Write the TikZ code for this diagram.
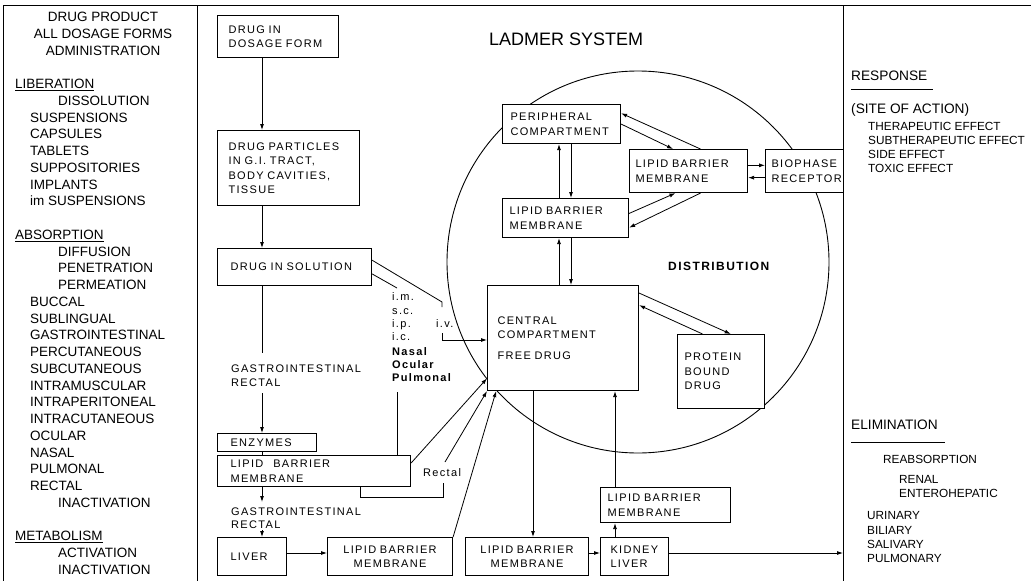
\documentclass[tikz,border=0pt]{standalone}
\usepackage{fontspec}
\setmainfont{Liberation Sans}
\newfontfamily\lt[LetterSpace=12,WordSpace=1.6]{Liberation Sans}
\usetikzlibrary{arrows.meta,calc}
\newcommand\bxf{\lt\fontsize{11}{14.5}\selectfont}
\newcommand\lcf{\fontsize{13.5}{16}\selectfont}
\newcommand\rsf{\fontsize{11.8}{14}\selectfont}
\newcommand\rbf{\fontsize{13.7}{16}\selectfont}
\begin{document}
\begin{tikzpicture}[x=1pt,y=-1pt,
  box/.style={draw, line width=1.1pt, fill=white, anchor=north west, inner sep=0pt, align=left, font=\bxf},
  cbox/.style={box, align=center},
  arr/.style={line width=0.8pt, -{Latex[length=6pt,width=4pt]}},
  ln/.style={line width=0.8pt},
  lc/.style={font=\lcf, inner sep=0pt},
  rs/.style={font=\rsf, inner sep=0pt, anchor=base west},
  rb/.style={font=\rbf, inner sep=0pt, anchor=base west},
  lab/.style={font=\bxf, inner sep=0pt, anchor=base west},
  frame/.style={line width=1pt}]
\useasboundingbox (0,0) rectangle (1031,581);
% frame
\draw[frame] (3,581) -- (3,5) -- (1031,5);
\draw[frame] (197,5) -- (197,581);
\draw[frame] (843,5) -- (843,581);

% left column
\node[lc, anchor=base] (T0) at (103,21.7) {DRUG PRODUCT};
\node[lc, anchor=base] (T1) at (103,38.5) {ALL DOSAGE FORMS};
\node[lc, anchor=base] (T2) at (103,55.2) {ADMINISTRATION};
\foreach \x/\r/\t in {15/4/{\underline{LIBERATION}},58/5/DISSOLUTION,30/6/SUSPENSIONS,30/7/CAPSULES,30/8/TABLETS,30/9/SUPPOSITORIES,30/10/IMPLANTS,30/11/im SUSPENSIONS,
  15/13/{\underline{ABSORPTION}},58/14/DIFFUSION,58/15/PENETRATION,58/16/PERMEATION,30/17/BUCCAL,30/18/SUBLINGUAL,30/19/GASTROINTESTINAL,30/20/PERCUTANEOUS,30/21/SUBCUTANEOUS,30/22/INTRAMUSCULAR,30/23/INTRAPERITONEAL,30/24/INTRACUTANEOUS,30/25/OCULAR,30/26/NASAL,30/27/PULMONAL,30/28/RECTAL,58/29/INACTIVATION,
  15/31/{\underline{METABOLISM}},58/32/ACTIVATION,58/33/INACTIVATION}
  \node[lc, anchor=base west] (L\r) at (\x,21.7+16.75*\r) {\t};

% right column
\node[rb] (resp) at (851,80) {RESPONSE};
\draw[ln] (851,89) -- (933,89);
\node[rb] (site) at (851,113) {(SITE OF ACTION)};
\node[rs] (e1) at (868,130) {THERAPEUTIC EFFECT};
\node[rs] (e2) at (868,144) {SUBTHERAPEUTIC EFFECT};
\node[rs] (e3) at (868,158) {SIDE EFFECT};
\node[rs] (e4) at (868,172.5) {TOXIC EFFECT};
\node[rb] (elim) at (851,429) {ELIMINATION};
\draw[ln] (851,442) -- (945,442);
\node[rs] (reab) at (883,463) {REABSORPTION};
\node[rs] (ren) at (899,483.3) {RENAL};
\node[rs] (ent) at (899,497.3) {ENTEROHEPATIC};
\node[rs] (uri) at (867,519.3) {URINARY};
\node[rs] (bil) at (867,534) {BILIARY};
\node[rs] (sal) at (867,548.3) {SALIVARY};
\node[rs] (pul) at (867,562.7) {PULMONARY};

% title, distribution circle
\node[inner sep=0pt, anchor=base west, font=\fontsize{18}{20}\selectfont] (title) at (489,45) {LADMER SYSTEM};
\node[draw, circle, line width=0.9pt, minimum size=382pt, inner sep=0pt] (dist) at (638,262) {};
\node[inner sep=0pt, anchor=base west, font=\lt\bfseries\fontsize{12}{14}\selectfont] (distl) at (668,270) {DISTRIBUTION};

% boxes
\node[box, minimum width=121pt, minimum height=42pt, text width=99pt] (dose) at (217,15) {DRUG~IN\\DOSAGE~FORM};
\node[box, minimum width=142pt, minimum height=75pt, text width=120pt] (part) at (217,130) {DRUG~PARTICLES\\IN~G.I.~TRACT,\\BODY~CAVITIES,\\TISSUE};
\node[box, minimum width=154pt, minimum height=37pt, text width=128pt] (sol) at (217,248) {DRUG~IN~SOLUTION};
\node[box, minimum width=99pt, minimum height=18pt, text width=73pt] (enz) at (217,433) {ENZYMES};
\node[box, minimum width=193pt, minimum height=31pt, text width=167pt] (lipgi) at (217,455) {LIPID\hspace{10pt}BARRIER\\MEMBRANE};
\node[box, minimum width=69pt, minimum height=38pt, text width=43pt] (liver) at (217,537) {LIVER};
\node[cbox, minimum width=125pt, minimum height=38pt, text width=115pt] (lip1) at (327,537) {LIPID~BARRIER\\MEMBRANE};
\node[cbox, minimum width=123pt, minimum height=38pt, text width=113pt] (lip2) at (465,537) {LIPID~BARRIER\\MEMBRANE};
\node[box, minimum width=68pt, minimum height=38pt, text width=48pt] (kid) at (600,537) {KIDNEY\\LIVER};
\node[box, minimum width=130pt, minimum height=35pt, text width=116pt] (lipk) at (600,487) {LIPID~BARRIER\\MEMBRANE};
\node[box, minimum width=151pt, minimum height=105pt, text width=131pt] (cen) at (487,285) {CENTRAL\\COMPARTMENT\\[6pt]FREE~DRUG};
\node[box, minimum width=87pt, minimum height=74pt, text width=73pt] (prot) at (677,334) {PROTEIN\\BOUND\\DRUG};
\node[box, minimum width=118pt, minimum height=39pt, text width=102pt] (peri) at (502,104) {PERIPHERAL\\COMPARTMENT};
\node[box, minimum width=126pt, minimum height=39pt, text width=112pt] (lipm) at (502,198) {LIPID~BARRIER\\MEMBRANE};
\node[box, minimum width=118pt, minimum height=43pt, text width=106pt] (lipr) at (629,149) {LIPID~BARRIER\\MEMBRANE};
\node[box, minimum width=78pt, minimum height=43pt, text width=66pt] (bio) at (765,149) {BIOPHASE\\RECEPTOR};

% labels
\node[lab] (gi1a) at (231,372) {GASTROINTESTINAL};
\node[lab] (gi1b) at (231,386.7) {RECTAL};
\node[lab] (gi2a) at (231,515) {GASTROINTESTINAL};
\node[lab] (gi2b) at (231,528.3) {RECTAL};
\node[lab] (rect) at (423,476.7) {Rectal};
\node[lab] (iv) at (436,327) {i.v.};
\node[lab] (im1) at (392,300.7) {i.m.};
\node[lab] (im2) at (392,314) {s.c.};
\node[lab] (im3) at (392,327) {i.p.};
\node[lab] (im4) at (392,340) {i.c.};
\node[lab, font=\bxf\bfseries] (im5) at (392,355) {Nasal};
\node[lab, font=\bxf\bfseries] (im6) at (392,368) {Ocular};
\node[lab, font=\bxf\bfseries] (im7) at (392,381.7) {Pulmonal};

% helper coordinates
\coordinate (gx) at (262,0);
\coordinate (ua) at (559,0);
\coordinate (da) at (571,0);
\coordinate (lx) at (615,0);
\coordinate (dx) at (533,0);
\coordinate (yb) at (0,553);
\coordinate (out) at (843,553);
\coordinate (g1t) at (262,353);
\coordinate (g1b) at (262,393);
\coordinate (g2t) at (262,502);
\coordinate (g2b) at (262,530);
\coordinate (ivA) at (442,302);
\coordinate (ivB) at (442,307);
\coordinate (ivC) at (442,333);
\coordinate (ivY) at (0,340);
\coordinate (imA) at (397,288);
\coordinate (imB) at (397,392);
\coordinate (rA) at (360,497);
\coordinate (rB) at (443,497);
\coordinate (rC) at (443,483);
\coordinate (rD) at (445,462);

% GI chain
\draw[arr] (dose.south -| gx) -- (part.north -| gx);
\draw[arr] (part.south -| gx) -- (sol.north -| gx);
\draw[ln] (sol.south -| gx) -- (g1t);
\draw[arr] (g1b) -- (enz.north -| gx);
\draw[ln] (enz.south -| gx) -- (lipgi.north -| gx);
\draw[arr] (lipgi.south -| gx) -- (g2t);
\draw[arr] (g2b) -- (liver.north -| gx);
\draw[arr] (liver.east |- yb) -- (lip1.west |- yb);
\draw[arr] (lip2.east |- yb) -- (kid.west |- yb);
\draw[arr] (kid.east |- yb) -- (out);
\draw[arr] (kid.north -| lx) -- (lipk.south -| lx);
\draw[arr] (lipk.north -| lx) -- (cen.south -| lx);
\draw[arr] (cen.south -| dx) -- (lip2.north -| dx);

% parenteral routes
\draw[ln] ($(sol.north east)!0.32!(sol.south east)$) -- (ivA) -- (ivB);
\draw[arr] (ivC) |- (cen.west |- ivY);
\draw[ln] ($(sol.north east)!0.68!(sol.south east)$) -- (imA);
\draw[ln] (imB) -- (lipgi.north -| imB);
\draw[arr] ($(lipgi.north east)!0.25!(lipgi.south east)$) -- ($(cen.north west)!0.88!(cen.south west)$);
\draw[ln] (lipgi.south -| rA) -- (rA) -- (rB) -- (rC);
\draw[arr] (rD) -- (cen.south west);
\draw[arr] (lip1.north east) -- ($(cen.south west)!0.06!(cen.south east)$);

% distribution
\draw[arr] (lipm.north -| ua) -- (peri.south -| ua);
\draw[arr] (peri.south -| da) -- (lipm.north -| da);
\draw[arr] (cen.north -| ua) -- (lipm.south -| ua);
\draw[arr] (lipm.south -| da) -- (cen.north -| da);
\draw[arr] (peri.east) -- ($(lipr.north west)!0.37!(lipr.north east)$);
\draw[arr] ($(lipr.north west)!0.6!(lipr.north east)$) -- ($(peri.north east)!0.23!(peri.south east)$);
\draw[arr] ($(lipm.north east)!0.385!(lipm.south east)$) -- ($(lipr.south west)!0.39!(lipr.south east)$);
\draw[arr] ($(lipr.south west)!0.6!(lipr.south east)$) -- ($(lipm.north east)!0.74!(lipm.south east)$);
\draw[arr] ($(lipr.north east)!0.37!(lipr.south east)$) -- ($(bio.north west)!0.37!(bio.south west)$);
\draw[arr] ($(bio.north west)!0.65!(bio.south west)$) -- ($(lipr.north east)!0.65!(lipr.south east)$);
\draw[arr] ($(cen.north east)!0.076!(cen.south east)$) -- ($(prot.north west)!0.61!(prot.north east)$);
\draw[arr] ($(prot.north west)!0.29!(prot.north east)$) -- ($(cen.north east)!0.19!(cen.south east)$);
\end{tikzpicture}
\end{document}
